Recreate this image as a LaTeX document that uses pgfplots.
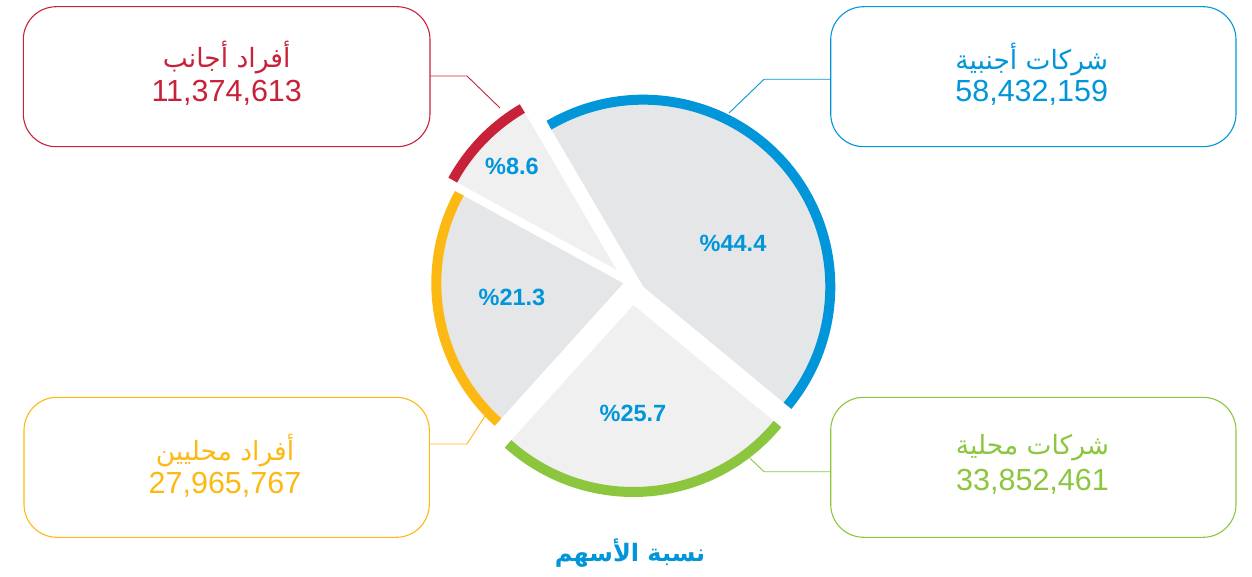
\documentclass[border=0pt]{standalone}
\usepackage{pgfplots}
\pgfplotsset{compat=1.18}
\usepackage{pgfplotstable}
\usepackage{fontspec}
\setmainfont{Liberation Sans}
\newfontfamily\arabicfont[Script=Arabic]{DejaVu Sans}
\TeXXeTstate=1

\definecolor{cblue}{HTML}{0096D9}
\definecolor{cred}{HTML}{C8223A}
\definecolor{cyellow}{HTML}{FDB913}
\definecolor{cgreen}{HTML}{8CC63F}
\definecolor{gdark}{HTML}{E5E6E8}
\definecolor{glight}{HTML}{F0F0F1}

% slices in clockwise order from the top-left edge
\pgfplotstableread{
pct value cx cy lx ly
44.4 58432159 643.3 289.3 733 333
25.7 33852461 633.3 271 633 163
21.3 27965767 623.3 292.7 512 279
8.6 11374613 616.7 306 512 410
}\slices

\def\startang{120.3}
\gdef\cum{0}
\foreach \i in {0,...,3}{%
  \pgfplotstablegetelem{\i}{pct}\of\slices \let\myP\pgfplotsretval
  \pgfplotstablegetelem{\i}{cx}\of\slices \let\myX\pgfplotsretval
  \pgfplotstablegetelem{\i}{cy}\of\slices \let\myY\pgfplotsretval
  \pgfmathsetmacro\myA{\startang-3.6*\cum}%
  \pgfmathsetmacro\myB{\myA-3.6*\myP}%
  \expandafter\xdef\csname sA\i\endcsname{\myA}%
  \expandafter\xdef\csname sB\i\endcsname{\myB}%
  \expandafter\xdef\csname sX\i\endcsname{\myX}%
  \expandafter\xdef\csname sY\i\endcsname{\myY}%
  \pgfmathsetmacro\myC{\cum+\myP}\xdef\cum{\myC}%
}

\newcommand\drawslice[3]{%
  \fill[#2] (axis cs:\csname sX#1\endcsname,\csname sY#1\endcsname) -- ++(\csname sA#1\endcsname:187pt)
    arc[start angle=\csname sA#1\endcsname, end angle=\csname sB#1\endcsname, radius=187pt] -- cycle;
  \draw[#3, line width=10pt] (axis cs:\csname sX#1\endcsname,\csname sY#1\endcsname) ++(\csname sA#1\endcsname:187pt)
    arc[start angle=\csname sA#1\endcsname, end angle=\csname sB#1\endcsname, radius=187pt];
}

\begin{document}
\begin{tikzpicture}
\begin{axis}[
  width=1252pt, height=576pt, scale only axis,
  xmin=0, xmax=1252, ymin=0, ymax=576,
  hide axis, clip=false,
]
\path (axis cs:0,0) rectangle (axis cs:1252,576);

\drawslice{0}{gdark}{cblue}
\drawslice{1}{glight}{cgreen}
\drawslice{2}{gdark}{cyellow}
\drawslice{3}{glight}{cred}

\addplot[only marks, mark=none, point meta=explicit symbolic,
  nodes near coords={\%\pgfplotspointmeta},
  nodes near coords style={anchor=center, text=cblue, font=\bfseries\fontsize{23.5}{25}\selectfont}]
  table[x=lx, y=ly, meta=pct] {\slices};

% boxes
\draw[cred, line width=1.1pt, rounded corners=33pt] (axis cs:23.3,429.3) rectangle (axis cs:430,569.3);
\draw[cblue, line width=1.1pt, rounded corners=33pt] (axis cs:830.7,429.3) rectangle (axis cs:1236,569.3);
\draw[cyellow, line width=1.1pt, rounded corners=33pt] (axis cs:24,38.7) rectangle (axis cs:429.3,178.7);
\draw[cgreen, line width=1.1pt, rounded corners=33pt] (axis cs:830.7,38.7) rectangle (axis cs:1236,178.7);

% connectors
\draw[cred, line width=0.9pt] (axis cs:430,500) -- (axis cs:467,500) -- (axis cs:500,468);
\draw[cblue, line width=0.9pt] (axis cs:830.7,496.7) -- (axis cs:764,496.7) -- (axis cs:729,463);
\draw[cyellow, line width=0.9pt] (axis cs:429.3,132) -- (axis cs:467,132) -- (axis cs:485,160);
\draw[cgreen, line width=0.9pt] (axis cs:830.7,104.3) -- (axis cs:764,104.3) -- (axis cs:750,117.7);

% box texts
\node[text=cred, font=\arabicfont\fontsize{26.5}{28}\selectfont] at (axis cs:226.7,518) {\beginR أفراد أجانب\endR};
\node[text=cred, font=\fontsize{30.5}{32}\selectfont] at (axis cs:226.7,482.7) {11,374,613};
\node[text=cblue, font=\arabicfont\fontsize{26.5}{28}\selectfont] at (axis cs:1031.7,516) {\beginR شركات أجنبية\endR};
\node[text=cblue, font=\fontsize{30.5}{32}\selectfont] at (axis cs:1031.7,483) {58,432,159};
\node[text=cyellow, font=\arabicfont\fontsize{26.5}{28}\selectfont] at (axis cs:225,125) {\beginR أفراد محليين\endR};
\node[text=cyellow, font=\fontsize{30.5}{32}\selectfont] at (axis cs:225,91.3) {27,965,767};
\node[text=cgreen, font=\arabicfont\fontsize{26.5}{28}\selectfont] at (axis cs:1032.5,128) {\beginR شركات محلية\endR};
\node[text=cgreen, font=\fontsize{30.5}{32}\selectfont] at (axis cs:1032.5,94.3) {33,852,461};

% title
\node[text=cblue, font=\arabicfont\bfseries\fontsize{24}{26}\selectfont] at (axis cs:630,23) {\beginR نسبة الأسهم\endR};
\end{axis}
\end{tikzpicture}
\end{document}
